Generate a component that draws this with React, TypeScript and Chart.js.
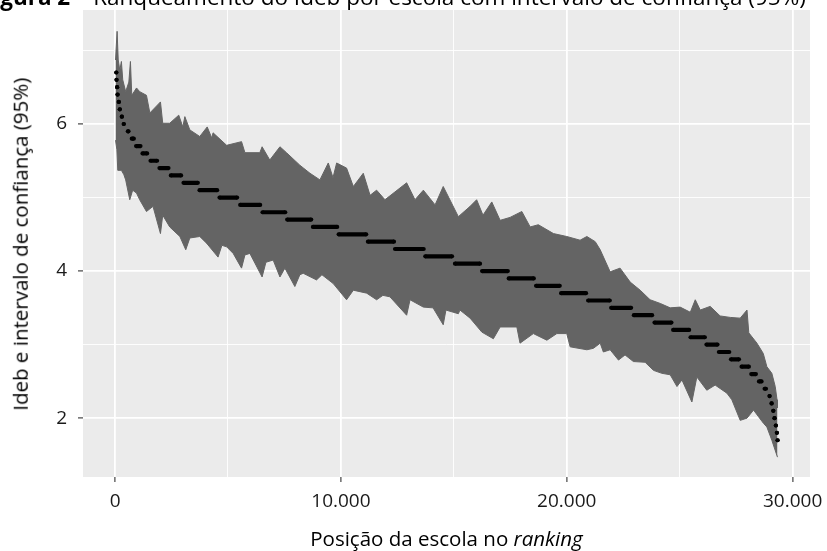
import React, { useEffect, useRef } from "react";
import { Chart, registerables } from "chart.js";

Chart.register(...registerables);

// ---- Data ----
// Ideb levels of the ranked schools (black dots) and the ranks where each level starts / ends
const idebLevels = [6.7, 6.6, 6.5, 6.4, 6.3, 6.2, 6.1, 6.0, 5.9, 5.8, 5.7, 5.6, 5.5, 5.4, 5.3, 5.2, 5.1, 5.0, 4.9, 4.8, 4.7, 4.6, 4.5, 4.4, 4.3, 4.2, 4.1, 4.0, 3.9, 3.8, 3.7, 3.6, 3.5, 3.4, 3.3, 3.2, 3.1, 3.0, 2.9, 2.8, 2.7, 2.6, 2.5, 2.4, 2.3, 2.2, 2.1, 2.0, 1.9, 1.8, 1.7];
const levelFirstRank = [55, 65, 90, 110, 165, 210, 300, 385, 565, 740, 930, 1215, 1570, 1965, 2470, 3030, 3740, 4625, 5540, 6530, 7620, 8760, 9900, 11195, 12395, 13735, 15050, 16250, 17430, 18640, 19750, 20945, 21965, 22970, 23885, 24710, 25480, 26185, 26735, 27270, 27740, 28170, 28510, 28760, 28980, 29070, 29145, 29200, 29260, 29305, 29335];
const levelLastRank = [55, 65, 90, 110, 165, 210, 300, 385, 595, 830, 1125, 1420, 1860, 2365, 2925, 3665, 4520, 5405, 6425, 7535, 8685, 9835, 11120, 12350, 13665, 14920, 16160, 17390, 18540, 19690, 20855, 21905, 22850, 23780, 24635, 25420, 26115, 26675, 27195, 27625, 28065, 28375, 28625, 28820, 28980, 29070, 29145, 29200, 29260, 29305, 29335];

// Upper limit of the 95% confidence intervals (envelope of the grey bars)
const upperRank = [20, 90, 140, 210, 280, 340, 470, 610, 680, 740, 950, 1090, 1390, 1540, 2010, 2110, 2420, 2820, 3000, 3090, 3310, 3750, 4080, 4280, 4340, 4940, 5600, 5750, 6410, 6510, 6850, 7300, 7590, 8180, 8630, 9070, 9440, 9650, 9810, 10250, 10550, 10990, 11290, 11580, 11950, 12910, 13280, 13650, 14170, 14530, 15200, 15720, 16010, 16290, 16680, 17050, 17490, 18010, 18380, 18740, 19410, 20000, 20590, 20890, 21260, 21480, 21920, 22360, 22810, 23250, 23690, 24140, 24580, 25020, 25470, 25690, 25910, 26350, 26790, 27240, 27680, 27980, 28060, 28420, 28700, 28860, 29080, 29230, 29310, 29330];
const upperIdeb = [6.87, 7.26, 6.87, 6.73, 6.85, 6.6, 6.44, 6.57, 6.85, 6.39, 6.49, 6.44, 6.39, 6.15, 6.3, 6.01, 6.01, 6.12, 5.96, 6.1, 5.92, 5.83, 5.96, 5.81, 5.88, 5.71, 5.76, 5.61, 5.61, 5.69, 5.51, 5.69, 5.61, 5.44, 5.33, 5.24, 5.47, 5.27, 5.47, 5.4, 5.15, 5.33, 5.03, 5.1, 4.97, 5.2, 4.97, 5.1, 4.9, 5.15, 4.74, 4.88, 4.97, 4.76, 4.94, 4.69, 4.73, 4.81, 4.6, 4.63, 4.51, 4.47, 4.42, 4.47, 4.4, 4.29, 3.99, 4.04, 3.85, 3.74, 3.61, 3.56, 3.5, 3.51, 3.44, 3.61, 3.47, 3.52, 3.39, 3.37, 3.36, 3.47, 3.16, 3.02, 2.88, 2.7, 2.61, 2.43, 2.25, 2.14];

// Lower limit of the 95% confidence intervals
const lowerRank = [20, 80, 120, 280, 390, 470, 650, 780, 950, 1090, 1390, 1680, 2010, 2110, 2420, 2870, 3130, 3310, 3750, 4050, 4560, 4730, 4940, 5230, 5600, 5750, 5970, 6510, 6680, 7000, 7300, 7520, 7960, 8180, 8330, 8920, 9160, 9660, 10250, 10550, 11140, 11580, 11860, 12170, 12910, 13060, 13650, 14080, 14530, 14650, 15200, 15270, 15720, 16240, 16750, 17050, 17790, 17930, 18520, 19120, 19560, 20000, 20150, 20890, 21180, 21480, 21620, 21920, 22290, 22580, 22950, 23470, 23840, 24210, 24580, 24880, 25100, 25540, 25760, 26200, 26570, 27090, 27310, 27680, 27980, 28270, 28490, 28710, 28860, 29080, 29330];
const lowerIdeb = [5.78, 5.65, 5.37, 5.37, 5.31, 5.24, 4.97, 5.1, 5.06, 4.97, 4.81, 4.88, 4.51, 4.76, 4.6, 4.47, 4.29, 4.45, 4.47, 4.38, 4.19, 4.35, 4.33, 4.24, 4.04, 4.22, 4.24, 3.92, 4.12, 4.15, 3.92, 4.04, 3.79, 3.95, 3.97, 3.88, 3.95, 3.83, 3.61, 3.74, 3.7, 3.61, 3.67, 3.65, 3.4, 3.61, 3.51, 3.5, 3.27, 3.47, 3.42, 3.47, 3.36, 3.17, 3.08, 3.24, 3.24, 3.02, 3.15, 3.06, 3.15, 3.15, 2.97, 2.93, 2.95, 3.02, 2.9, 2.93, 2.79, 2.86, 2.77, 2.76, 2.65, 2.61, 2.59, 2.43, 2.52, 2.22, 2.56, 2.38, 2.45, 2.34, 2.25, 1.97, 2.0, 2.11, 2.02, 1.93, 1.88, 1.7, 1.47];

// Axis ticks
const xTicks = [0, 5000, 10000, 15000, 20000, 25000, 30000];
const xLabelTicks = [0, 10000, 20000, 30000];
const yTicks = [2, 3, 4, 5, 6, 7];
const yLabelTicks = [2, 4, 6];

const FONT = '"Open Sans", "Noto Sans", sans-serif';
const BAR_GREY = "#646464";

const panelBackground = {
  id: "panelBackground",
  beforeDraw(chart: any) {
    const { ctx, chartArea } = chart;
    ctx.save();
    ctx.fillStyle = "#EBEBEB";
    ctx.fillRect(chartArea.left, chartArea.top, chartArea.right - chartArea.left, chartArea.bottom - chartArea.top);
    ctx.restore();
  },
};

function fmtThousands(v: number) {
  return String(v).replace(/\B(?=(\d{3})+(?!\d))/g, ".");
}

export default function App() {
  const ref = useRef<HTMLCanvasElement>(null);

  useEffect(() => {
    if (!ref.current) return;
    const dots: any[] = [];
    idebLevels.forEach((v, i) => {
      dots.push({ x: levelFirstRank[i], y: v });
      dots.push({ x: levelLastRank[i], y: v });
      dots.push({ x: levelLastRank[i], y: null });
    });
    const upper = upperRank.map((x, i) => ({ x, y: upperIdeb[i] }));
    const lower = lowerRank.map((x, i) => ({ x, y: lowerIdeb[i] }));

    const chart = new Chart(ref.current, {
      type: "line",
      data: {
        datasets: [
          {
            label: "Ideb",
            data: dots,
            borderColor: "#000",
            backgroundColor: "#000",
            borderWidth: 4.2,
            pointRadius: 2.1,
            pointBorderWidth: 0,
            pointBackgroundColor: "#000",
            spanGaps: false,
            tension: 0,
            order: 0,
          },
          {
            label: "Limite superior",
            data: upper,
            borderColor: BAR_GREY,
            borderWidth: 1,
            pointRadius: 0,
            fill: false,
            tension: 0,
            order: 1,
          },
          {
            label: "Limite inferior",
            data: lower,
            borderColor: BAR_GREY,
            backgroundColor: BAR_GREY,
            borderWidth: 1,
            pointRadius: 0,
            fill: "-1",
            tension: 0,
            order: 1,
          },
        ],
      },
      options: {
        responsive: false,
        animation: false,
        events: [],
        layout: { padding: { top: 10, right: 17, left: 0, bottom: 0 } },
        plugins: {
          legend: { display: false },
          tooltip: { enabled: false },
          title: { display: false },
        },
        scales: {
          x: {
            type: "linear",
            min: -1420,
            max: 30770,
            afterBuildTicks: (s: any) => {
              s.ticks = xTicks.map((v) => ({ value: v }));
            },
            afterFit: (s: any) => {
              s.height = 74;
              s.paddingLeft = 0;
              s.paddingRight = 0;
            },
            border: { display: false },
            grid: {
              color: "#FFFFFF",
              lineWidth: (c: any) => (c.tick && xLabelTicks.includes(c.tick.value) ? 1.8 : 0.9),
              tickLength: 5,
              tickWidth: 1.1,
              tickColor: (c: any) => (c.tick && xLabelTicks.includes(c.tick.value) ? "#333333" : "rgba(0,0,0,0)"),
            },
            ticks: {
              autoSkip: false,
              maxRotation: 0,
              padding: 8,
              color: "#1a1a1a",
              font: { family: FONT, size: 19 },
              callback: (v: any) => (xLabelTicks.includes(Number(v)) ? fmtThousands(Number(v)) : ""),
            },
          },
          y: {
            type: "linear",
            min: 1.2,
            max: 7.55,
            afterBuildTicks: (s: any) => {
              s.ticks = yTicks.map((v) => ({ value: v }));
            },
            afterFit: (s: any) => {
              s.width = 83;
              s.paddingTop = 0;
              s.paddingBottom = 0;
            },
            border: { display: false },
            grid: {
              color: "#FFFFFF",
              lineWidth: (c: any) => (c.tick && yLabelTicks.includes(c.tick.value) ? 1.8 : 0.9),
              tickLength: 5,
              tickWidth: 1.1,
              tickColor: (c: any) => (c.tick && yLabelTicks.includes(c.tick.value) ? "#333333" : "rgba(0,0,0,0)"),
            },
            ticks: {
              autoSkip: false,
              padding: 11,
              color: "#1a1a1a",
              font: { family: FONT, size: 19 },
              callback: (v: any) => (yLabelTicks.includes(Number(v)) ? String(v) : ""),
            },
          },
        },
      },
      plugins: [panelBackground],
    });
    return () => chart.destroy();
  }, []);

  const textBase: React.CSSProperties = {
    position: "absolute",
    fontFamily: FONT,
    color: "#000",
    whiteSpace: "nowrap",
  };

  return (
    <div style={{ position: "fixed", left: 0, top: 0, width: 827, height: 551, overflow: "hidden", background: "#fff" }}>
      <canvas ref={ref} width={827} height={551} style={{ position: "absolute", left: 0, top: 0, width: 827, height: 551 }} />
      <div style={{ ...textBase, fontSize: 22.5, lineHeight: "22.5px", top: -14.5, left: -19 }}>
        <b>Figura 2</b> – Ranqueamento do Ideb por escola com intervalo de confiança (95%)
      </div>
      <div style={{ ...textBase, fontSize: 20.5, lineHeight: "20.5px", top: 528, left: 83, width: 727, textAlign: "center" }}>
        Posição da escola no <i>ranking</i>
      </div>
      <div
        style={{
          ...textBase,
          fontSize: 20.5,
          lineHeight: "20.5px",
          left: 20,
          top: 243.5,
          width: 420,
          marginLeft: -210,
          marginTop: -10,
          textAlign: "center",
          transform: "rotate(-90deg)",
        }}
      >
        Ideb e intervalo de confiança (95%)
      </div>
    </div>
  );
}
